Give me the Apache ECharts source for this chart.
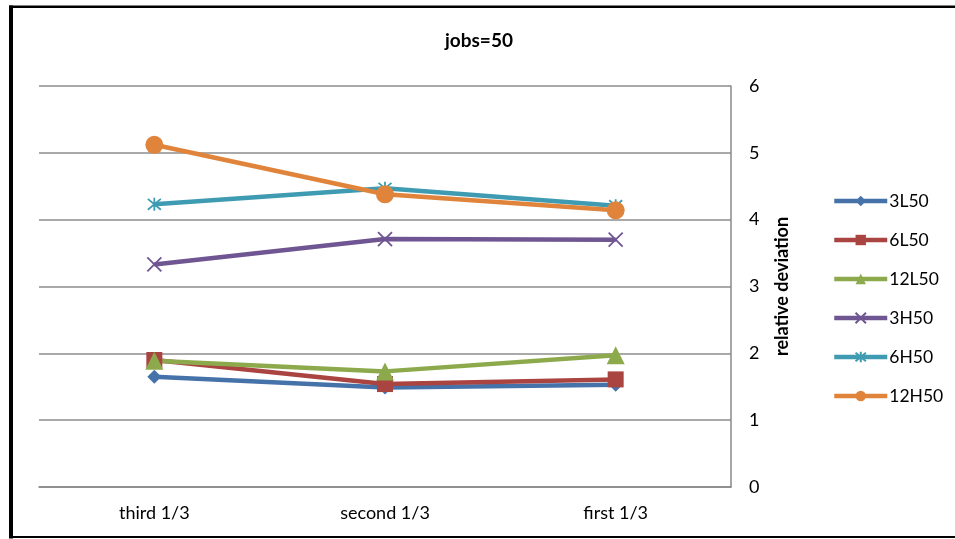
<!DOCTYPE html>
<html><head><meta charset="utf-8">
<script src="https://cdn.jsdelivr.net/npm/echarts@6/dist/echarts.min.js"></script>
<style>html,body{margin:0;padding:0;background:#fff}#c{width:955px;height:539px}</style>
</head><body><div id="c"></div>
<script>
const categories = ['third 1/3', 'second 1/3', 'first 1/3'];
const s3L50 = [1.65, 1.49, 1.53];
const s6L50 = [1.90, 1.54, 1.61];
const s12L50 = [1.89, 1.73, 1.97];
const s3H50 = [3.33, 3.71, 3.70];
const s6H50 = [4.23, 4.47, 4.21];
const s12H50 = [5.12, 4.38, 4.14];
const yTicks = [0, 1, 2, 3, 4, 5, 6];

const FONT = 'Lato, "Open Sans", sans-serif';
const xPath = 'path://M0,0L10,10M10,0L0,10';
const starPath = 'path://M0,0L10,10M10,0L0,10M5,-1L5,11';

function mk(name, data, color, symbol, size, stroke) {
  return {
    name, type: 'line', data, symbol, symbolSize: size,
    showAllSymbol: true,
    lineStyle: { color, width: 4.5 },
    itemStyle: stroke ? { color: 'rgba(0,0,0,0)', borderColor: color, borderWidth: 1.8 } : { color, borderWidth: 0 },
    emphasis: { disabled: true }
  };
}

const chart = echarts.init(document.getElementById('c'));
chart.setOption({
  animation: false,
  backgroundColor: '#fff',
  title: {
    text: 'jobs=50', left: 445, top: 31, padding: 0,
    textStyle: { fontFamily: FONT, fontSize: 19, fontWeight: 'bold', color: '#000' }
  },
  grid: { left: 39, right: 224, top: 86, bottom: 52 },
  xAxis: {
    type: 'category', data: categories, boundaryGap: true,
    axisLine: { show: true, lineStyle: { color: '#888', width: 1.5 } },
    axisTick: { show: false },
    axisLabel: { fontFamily: FONT, fontSize: 18, color: '#000', margin: 17 }
  },
  yAxis: {
    type: 'value', position: 'right', min: 0, max: 6, interval: 1,
    name: 'relative deviation', nameLocation: 'middle', nameRotate: 90, nameGap: 42,
    nameTextStyle: { fontFamily: FONT, fontSize: 18, fontWeight: 'bold', color: '#000' },
    axisLine: { show: true, lineStyle: { color: '#888', width: 1.5 } },
    axisTick: { show: false },
    splitLine: { show: true, lineStyle: { color: '#8c8c8c', width: 1.5 } },
    axisLabel: { fontFamily: FONT, fontSize: 18, color: '#000', margin: 18,
      formatter: v => yTicks.includes(v) ? String(v) : '' }
  },
  legend: {
    orient: 'vertical', left: 832, top: 192, padding: 0,
    itemWidth: 53, itemHeight: 13, itemGap: 21,
    lineStyle: { width: 4.5 },
    textStyle: { fontFamily: FONT, fontSize: 17.5, color: '#000', padding: [0, 0, 0, -3] },
    data: ['3L50', '6L50', '12L50', '3H50', '6H50', '12H50']
  },
  series: [
    mk('3L50', s3L50, '#4672AA', 'diamond', 14),
    mk('6L50', s6L50, '#AA4441', 'rect', 16),
    mk('12L50', s12L50, '#8CAA4B', 'triangle', 18),
    mk('3H50', s3H50, '#6F5591', xPath, 14, true),
    mk('6H50', s6H50, '#3E9BB2', starPath, 13, true),
    mk('12H50', s12H50, '#E0843B', 'circle', 18)
  ],
  graphic: [
    { type: 'rect', shape: { x: 9, y: 5.5, width: 4, height: 533 }, style: { fill: '#000' }, silent: true },
    { type: 'rect', shape: { x: 9, y: 5.5, width: 946, height: 2.5 }, style: { fill: '#000' }, silent: true },
    { type: 'rect', shape: { x: 9, y: 536, width: 946, height: 2 }, style: { fill: '#000' }, silent: true }
  ]
});
</script></body></html>
